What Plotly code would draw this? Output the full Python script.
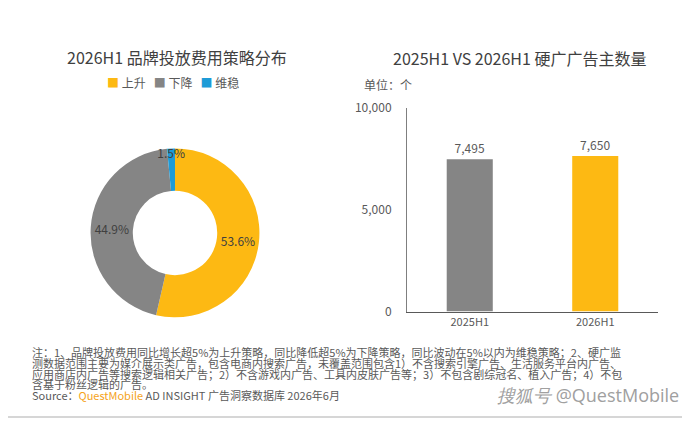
import plotly.graph_objects as go

# -------------------------------
# datos
# -------------------------------
estrategias = ["上升", "下降", "维稳"]
estrategia_pct = [53.6, 44.9, 1.5]

periodos = ["2025H1", "2026H1"]
anunciantes = [7495, 7650]
eje_y_ticks = [0, 5000, 10000]

notas = [
    "注：1、品牌投放费用同比增长超5%为上升策略，同比降低超5%为下降策略，同比波动在5%以内为维稳策略；2、硬广监",
    "测数据范围主要为媒介展示类广告，包含电商内搜索广告，未覆盖范围包含1）不含搜索引擎广告、生活服务平台内广告、",
    "应用商店内广告等搜索逻辑相关广告；2）不含游戏内广告、工具内皮肤广告等；3）不包含剧综冠名、植入广告；4）不包",
    "含基于粉丝逻辑的广告。",
]

AMARILLO = "#FDB913"
GRIS = "#858585"
AZUL = "#1E9BD7"
colores_pie = [AMARILLO, GRIS, AZUL]
colores_bar = [GRIS, AMARILLO]

FUENTE = "Noto Sans CJK SC"
TXT = "#595959"

# la página tiene 8px de margen en el body: la figura arranca en (8, 8)
# y las posiciones (medidas sobre la imagen de 690x427) se corren 8px
OFF = 8
W, H = 690 - OFF, 427 - OFF


def px(x):
    return (x - OFF) / W


def py(y):
    return 1 - (y - OFF) / H


fig = go.Figure()

# -------------------------------
# dona: estrategia de gasto
# -------------------------------
fig.add_trace(go.Pie(
    labels=estrategias,
    values=estrategia_pct,
    marker=dict(colors=colores_pie, line=dict(width=0)),
    hole=0.5,
    sort=False,
    direction="clockwise",
    rotation=0,
    texttemplate="%{percent:.1%}",
    textposition="inside",
    insidetextorientation="horizontal",
    textfont=dict(family=FUENTE, size=12, color="#404040"),
    domain=dict(x=[px(87), px(263)], y=[py(320), py(144)]),
    showlegend=False,
    hoverinfo="label+percent",
))

# -------------------------------
# barras: cantidad de anunciantes
# -------------------------------
fig.add_trace(go.Bar(
    x=periodos,
    y=anunciantes,
    marker=dict(color=colores_bar, line=dict(width=0)),
    texttemplate="%{y:,}",
    textposition="outside",
    textfont=dict(family=FUENTE, size=12, color=TXT),
    cliponaxis=False,
    width=0.367,
    showlegend=False,
    xaxis="x",
    yaxis="y",
))

fig.update_layout(
    width=W,
    height=H,
    margin=dict(l=0, r=0, t=0, b=0),
    paper_bgcolor="white",
    plot_bgcolor="rgba(0,0,0,0)",
    font=dict(family=FUENTE, color=TXT),
    uniformtext=dict(minsize=12, mode="show"),
    xaxis=dict(
        domain=[px(407), px(658)],
        type="category",
        showline=True, linecolor="#595959", linewidth=1,
        showgrid=False, zeroline=False, ticks="",
        tickfont=dict(family=FUENTE, size=11, color=TXT),
        anchor="y",
    ),
    yaxis=dict(
        domain=[py(314), py(102)],
        range=[0, 10000],
        tickvals=eje_y_ticks,
        tickformat=",",
        showline=True, linecolor="#7f7f7f", linewidth=1,
        showgrid=False, zeroline=False, ticks="",
        ticklabelstandoff=12,
        tickfont=dict(family=FUENTE, size=12, color=TXT),
        anchor="x",
    ),
)

# leyenda hecha a mano (más compacta que la de plotly)
leyenda = "&nbsp;&nbsp;&nbsp;".join(
    f"<span style='color:{c}'>■</span> {e}" for e, c in zip(estrategias, colores_pie)
)

anot = [
    # títulos
    dict(text="2026H1 品牌投放费用策略分布", x=px(177), y=py(49), font=dict(size=16, color="#404040")),
    dict(text="2025H1 VS 2026H1 硬广广告主数量", x=px(519), y=py(50), font=dict(size=16, color="#404040")),
    dict(text=leyenda, x=px(173), y=py(75), font=dict(size=12, color=TXT)),
    dict(text="单位：个", x=px(362), y=py(77), xanchor="left", font=dict(size=12, color=TXT)),
    # fuente y firma
    dict(text="Source：<span style='color:#F5A31A'>QuestMobile</span> AD INSIGHT 广告洞察数据库 2026年6月",
         x=px(30), y=py(401), xanchor="left", font=dict(size=11, color=TXT)),
    dict(text="<i>搜狐号</i> @QuestMobile", x=px(681), y=py(401), xanchor="right",
         font=dict(family="Open Sans", size=18, color="#a0a0a0")),
]
for i, linea in enumerate(notas):
    anot.append(dict(text=linea, x=px(30), y=py(356 + i * 11.3), xanchor="left",
                     font=dict(size=11, color=TXT)))

for a in anot:
    a.setdefault("xanchor", "center")
    a.update(xref="paper", yref="paper", yanchor="middle", showarrow=False)
    a["font"].setdefault("family", FUENTE)
fig.update_layout(annotations=anot)

# marco gris (derecha y abajo; izquierda y arriba caen en el margen del body)
fig.add_shape(type="line", xref="paper", yref="paper", x0=px(688), y0=py(0), x1=px(688), y1=py(424),
              line=dict(color="#d6d6d6", width=2), layer="below")
fig.add_shape(type="line", xref="paper", yref="paper", x0=0, y0=py(424), x1=px(688), y1=py(424),
              line=dict(color="#d6d6d6", width=2), layer="below")

fig.write_html("out.html")
